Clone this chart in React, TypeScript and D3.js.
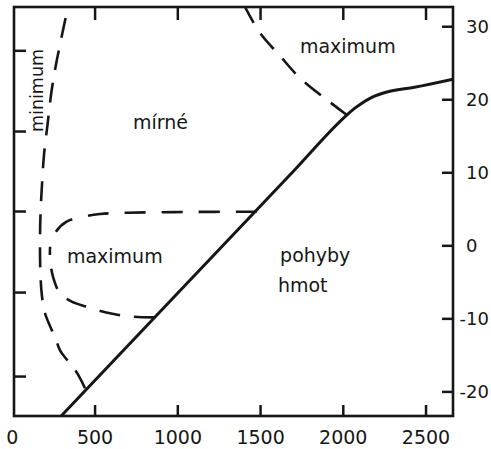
import React from "react";
import * as d3 from "d3";

const W = 491;
const H = 449;

// visible extent of the frame, in data units
const xExtent = [10, 2663];
const yExtent = [-23.3, 32.7];

const xTicks = [0, 500, 1000, 1500, 2000, 2500];
const yTicks = [-20, -10, 0, 10, 20, 30];
// unlabelled ticks on the left edge (same units as right axis)
const leftTicks = [-17.9, -6.4, 4.7, 15.65, 26.7];

// solid boundary
const solidX = [295, 1000, 1700, 2021, 2070, 2110, 2170, 2270, 2430, 2663];
const solidY = [-23.3, -6.47, 10.25, 17.9, 18.85, 19.5, 20.3, 21.1, 21.7, 22.8];

// dashed: "minimum" border (from the solid line up to the top)
const minX = [439, 409, 367, 330, 288, 258, 228, 197, 179, 170, 167, 170, 179, 191, 212, 234, 258, 294, 336];
const minY = [-19.5, -18.1, -16.6, -15.6, -14.3, -12.5, -11.0, -9.2, -6.9, -4.0, 0.1, 4.2, 8.3, 12.4, 16.5, 20.7, 24.1, 28.2, 32.7];

// dashed: lower "maximum" loop, upper and lower half
const loopTopX = [1477, 1033, 691, 530, 449, 328, 258, 228];
const loopTopY = [4.67, 4.63, 4.53, 4.36, 4.08, 3.3, 1.75, -0.12];
const loopLowX = [862, 731, 590, 449, 359, 288, 248, 228, 228];
const loopLowY = [-9.79, -9.71, -9.24, -8.34, -7.65, -6.5, -4.41, -1.94, -0.12];

// dashed: upper "maximum" border (from the solid line up to the top)
const topX = [2022, 1902, 1738, 1618, 1497, 1406];
const topY = [17.91, 19.97, 22.98, 25.99, 29.14, 32.7];

const labels = [
  { text: "mírné", x: 729, y: 16.0 },
  { text: "maximum", x: 1738, y: 26.44 },
  { text: "maximum", x: 330, y: -2.35 },
  { text: "pohyby", x: 1618, y: -2.17 },
  { text: "hmot", x: 1605, y: -6.28 },
];

const ink = "#161616";
const font = "'DejaVu Sans', sans-serif";

export default function App() {
  const x = d3.scaleLinear().domain(xExtent).range([14, 453]);
  const y = d3.scaleLinear().domain(yExtent).range([416, 7]);

  const line = (xs: number[], ys: number[], curve: d3.CurveFactory) =>
    d3
      .line<number>()
      .x((d) => x(xs[d]))
      .y((d) => y(ys[d]))
      .curve(curve)(d3.range(xs.length)) || "";

  const [x0, x1] = x.range();
  const [y0, y1] = y.range();

  return (
    <svg
      width={W}
      height={H}
      viewBox={`0 0 ${W} ${H}`}
      style={{ position: "absolute", left: 0, top: 0, background: "#fff" }}
    >
      <defs>
        <clipPath id="frame">
          <rect x={x0} y={y1} width={x1 - x0} height={y0 - y1} />
        </clipPath>
      </defs>

      {/* ticks */}
      <g stroke={ink} strokeWidth={2.5}>
        {xTicks.filter((d) => d > 0).map((d) => (
          <g key={"xt" + d}>
            <line x1={x(d)} x2={x(d)} y1={y0} y2={y0 - 11} />
            <line x1={x(d)} x2={x(d)} y1={y1} y2={y1 + 13} />
          </g>
        ))}
        {yTicks.map((d) => (
          <line key={"yt" + d} x1={x1} x2={x1 - 11} y1={y(d)} y2={y(d)} />
        ))}
        {leftTicks.map((d) => (
          <line key={"lt" + d} x1={x0} x2={x0 + 12} y1={y(d)} y2={y(d)} />
        ))}
      </g>

      {/* curves */}
      <g clipPath="url(#frame)" fill="none" stroke={ink} strokeLinejoin="round">
        <path d={line(solidX, solidY, d3.curveMonotoneX)} strokeWidth={3} />
        <path d={line(minX, minY, d3.curveCatmullRom)} strokeWidth={2.6} strokeDasharray="20 13" />
        <path d={line(loopTopX, loopTopY, d3.curveCatmullRom)} strokeWidth={2.6} strokeDasharray="21 16" />
        <path d={line(loopLowX, loopLowY, d3.curveCatmullRom)} strokeWidth={2.6} strokeDasharray="21 14" />
        <path d={line(topX, topY, d3.curveCatmullRom)} strokeWidth={2.6} strokeDasharray="20 13" />
      </g>

      {/* frame */}
      <rect
        x={x0}
        y={y1}
        width={x1 - x0}
        height={y0 - y1}
        fill="none"
        stroke={ink}
        strokeWidth={2.6}
      />

      {/* tick labels */}
      <g fill={ink} fontFamily={font} fontSize={19}>
        {xTicks.map((d) => (
          <text key={"xl" + d} x={x(d)} y={444} textAnchor="middle">
            {d}
          </text>
        ))}
      </g>
      <g fill={ink} fontFamily={font} fontSize={18}>
        {yTicks.map((d) => (
          <text
            key={"yl" + d}
            x={d < 0 ? 466 - 6.5 : 466}
            y={y(d)}
            dy="0.36em"
          >
            {d}
          </text>
        ))}
      </g>

      {/* region labels */}
      <g fill={ink} fontFamily={font} fontSize={19}>
        {labels.map((l, i) => (
          <text key={"lb" + i} x={x(l.x)} y={y(l.y)}>
            {l.text}
          </text>
        ))}
        <text
          transform={`translate(43,132) rotate(-90)`}
          fontSize={17.5}
        >
          minimum
        </text>
      </g>
    </svg>
  );
}
